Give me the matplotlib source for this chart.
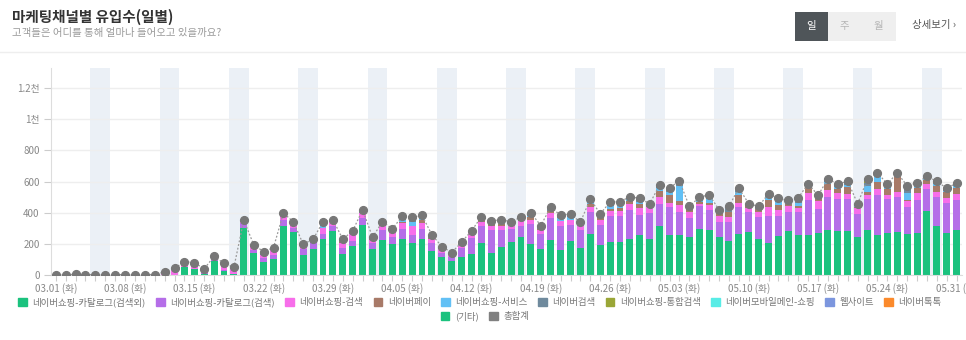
import matplotlib

matplotlib.use("Agg")
import matplotlib.pyplot as plt
from matplotlib.patches import Rectangle
from matplotlib.lines import Line2D
import numpy as np

plt.rcParams["font.family"] = ["Noto Sans CJK KR", "DejaVu Sans"]

# 03.01 ~ 05.31 (92일)
날짜 = [f"{m:02d}.{d:02d}" for m, n in [(3, 31), (4, 30), (5, 31)] for d in range(1, n + 1)]
요일_라벨 = "(화)"

카탈로그_검색외 = [
    0, 0, 0, 0, 0, 0, 0, 0, 0, 0, 0, 3, 0, 54, 39, 8, 90, 28, 5, 305,
    144, 86, 101, 312, 275, 129, 166, 230, 284, 135, 189, 322, 166, 226, 200, 230, 208, 232, 157, 116,
    88, 114, 135, 204, 144, 178, 213, 241, 200, 166, 226, 163, 217, 174, 265, 191, 213, 213, 232, 254,
    232, 316, 254, 254, 241, 297, 290, 243, 219, 262, 275, 232, 204, 252, 280, 258, 258, 269, 290, 280,
    284, 243, 286, 254, 273, 277, 265, 269, 408, 312, 269, 286,
]
카탈로그_검색 = [
    0, 0, 0, 0, 0, 0, 0, 0, 0, 0, 0, 0, 0, 0, 0, 5, 10, 5, 0, 28,
    15, 25, 28, 43, 26, 37, 49, 35, 28, 37, 30, 43, 38, 60, 43, 67, 50, 63, 47, 28,
    30, 62, 102, 108, 146, 112, 82, 77, 129, 99, 137, 149, 105, 116, 139, 131, 163, 163, 183, 129,
    166, 142, 185, 152, 125, 144, 127, 99, 121, 172, 127, 140, 177, 124, 122, 146, 221, 157, 209, 210,
    206, 146, 202, 258, 217, 224, 169, 210, 145, 189, 193, 198,
]
쇼핑_검색 = [
    0, 0, 0, 0, 0, 0, 0, 0, 0, 0, 0, 12, 35, 25, 30, 20, 12, 30, 35, 8,
    20, 20, 37, 21, 26, 21, 5, 40, 28, 32, 46, 33, 20, 26, 41, 36, 54, 42, 26, 22,
    14, 18, 32, 30, 26, 22, 27, 26, 26, 21, 35, 36, 30, 30, 36, 33, 32, 32, 41, 47,
    36, 43, 26, 44, 40, 15, 30, 34, 32, 28, 28, 30, 56, 39, 39, 28, 48, 51, 49, 35,
    33, 39, 28, 41, 26, 34, 39, 48, 32, 30, 33, 36,
]
네이버페이 = [
    0, 0, 0, 0, 0, 0, 0, 0, 0, 0, 0, 0, 0, 0, 0, 0, 0, 0, 0, 0,
    0, 0, 0, 0, 0, 0, 0, 0, 5, 14, 0, 0, 8, 12, 5, 8, 0, 18, 10, 5,
    0, 0, 0, 15, 12, 15, 5, 12, 15, 12, 15, 0, 0, 0, 18, 12, 18, 25, 22, 25,
    10, 41, 51, 27, 15, 12, 15, 24, 35, 54, 12, 20, 47, 32, 12, 13, 36, 12, 39, 30,
    40, 12, 17, 47, 37, 93, 10, 30, 23, 39, 36, 39,
]
쇼핑_서비스 = [
    0, 0, 0, 0, 0, 0, 0, 0, 0, 0, 0, 0, 0, 0, 0, 0, 0, 0, 0, 0,
    0, 0, 0, 0, 0, 0, 0, 10, 0, 0, 0, 0, 0, 0, 0, 15, 30, 8, 0, 0,
    0, 0, 0, 8, 10, 12, 0, 5, 12, 0, 0, 15, 22, 5, 8, 0, 20, 18, 8, 15,
    5, 15, 20, 93, 0, 12, 28, 0, 0, 20, 0, 0, 18, 25, 10, 15, 0, 0, 12, 12,
    18, 6, 37, 34, 12, 0, 45, 12, 12, 12, 8, 12,
]
네이버검색 = [
    3, 3, 4, 3, 2, 2, 3, 2, 3, 3, 3, 5, 8, 7, 10, 7, 8, 12, 10, 12,
    15, 19, 10, 22, 15, 11, 10, 27, 10, 12, 19, 21, 11, 18, 8, 12, 20, 12, 18, 12,
    12, 17, 15, 9, 10, 16, 15, 11, 10, 20, 24, 20, 17, 15, 22, 18, 23, 20, 17, 22,
    9, 22, 25, 34, 20, 19, 26, 19, 34, 23, 16, 19, 21, 20, 16, 20, 24, 23, 18, 18,
    21, 12, 22, 22, 20, 18, 46, 23, 14, 20, 18, 21,
]
통합검색 = [0] * 92
for i, v in [(35, 8), (36, 8), (37, 8), (48, 6), (55, 8), (75, 15), (82, 15), (85, 10)]:
    통합검색[i] = v
모바일메인 = [0] * 92
모바일메인[82] = 10
웹사이트 = [0] * 92
네이버톡톡 = [0] * 92
기타 = [0] * 92

채널 = [
    ("네이버쇼핑-카탈로그(검색외)", 카탈로그_검색외, "#1bc27e"),
    ("네이버쇼핑-카탈로그(검색)", 카탈로그_검색, "#b56ee8"),
    ("네이버쇼핑-검색", 쇼핑_검색, "#f76eea"),
    ("네이버페이", 네이버페이, "#a87a68"),
    ("네이버쇼핑-서비스", 쇼핑_서비스, "#62c0f5"),
    ("네이버검색", 네이버검색, "#6f8a9d"),
    ("네이버쇼핑-통합검색", 통합검색, "#9aa637"),
    ("네이버모바일메인-쇼핑", 모바일메인, "#58ece6"),
    ("웹사이트", 웹사이트, "#7c96de"),
    ("네이버톡톡", 네이버톡톡, "#fb8a2c"),
    ("(기타)", 기타, "#1bc27e"),
]
총합계 = np.sum([np.array(v) for _, v, _ in 채널], axis=0)

W, H = 966, 340
fig = plt.figure(figsize=(W / 100, H / 100), dpi=100)


def fx(px):
    return px / W


def fy(py):
    return 1 - py / H


# 상단 헤더
fig.text(fx(12), fy(17), "마케팅채널별 유입수(일별)", fontsize=10.5, fontweight="bold",
         color="#333333", va="center")
fig.text(fx(12), fy(33), "고객들은 어디를 통해 얼마나 들어오고 있을까요?", fontsize=7.5,
         color="#9a9a9a", va="center")

버튼 = [("일", 795, "#4f5559", "#ffffff"), ("주", 828, "#efefef", "#b5b5b5"), ("월", 862, "#efefef", "#b5b5b5")]
for 글자, x0, bg, fg in 버튼:
    fig.patches.append(Rectangle((fx(x0), fy(41)), fx(33.5), 29 / H, transform=fig.transFigure,
                                 facecolor=bg, edgecolor="none"))
    fig.text(fx(x0 + 16.5), fy(26.5), 글자, fontsize=7.5, color=fg, ha="center", va="center")
fig.text(fx(912), fy(25), "상세보기 ›", fontsize=7.5, color="#555555", va="center")
fig.lines.append(Line2D([0, 1], [fy(52), fy(52)], transform=fig.transFigure, color="#eeeeee", lw=1))

# 차트 영역
x_left, x_right, y_top, y_bot = 50.75, 961.6, 68.3, 275
ax = fig.add_axes([fx(x_left), fy(y_bot), fx(x_right - x_left), (y_bot - y_top) / H])

x = np.arange(len(날짜))
for s in range(4, len(날짜), 7):
    ax.axvspan(s - 0.5, s + 1.5, color="#ebf0f6", lw=0, zorder=0)

bottom = np.zeros(len(날짜))
for 이름, 값, 색 in 채널:
    ax.bar(x, 값, bottom=bottom, width=0.7, color=색, label=이름, zorder=2)
    bottom += np.array(값)

ax.plot(x, 총합계, color="#999999", lw=0.9, linestyle=(0, (1.5, 1.5)), marker="o",
        markersize=5.6, markerfacecolor="#777777", markeredgecolor="#777777", zorder=3,
        label="총합계")

ax.set_xlim(-0.5, len(날짜) - 0.5)
ax.set_ylim(0, 1328)
ax.set_yticks([0, 200, 400, 600, 800, 1000, 1200],
              ["0", "200", "400", "600", "800", "1천", "1.2천"])
ax.set_xticks(x, minor=True)
ax.set_xticks(x[::7], [f"{날짜[i]} {요일_라벨}" for i in x[::7]])
ax.tick_params(axis="y", colors="#cccccc", labelcolor="#888888", labelsize=7, length=5, width=0.8, pad=3)
ax.tick_params(axis="x", which="both", colors="#cccccc", labelcolor="#888888", labelsize=7,
               length=4, width=0.8, pad=2)
ax.grid(axis="y", color="#eeeeee", lw=1, zorder=1)
ax.set_axisbelow(True)
for side in ["top", "right"]:
    ax.spines[side].set_visible(False)
for side in ["left", "bottom"]:
    ax.spines[side].set_color("#dddddd")

# 범례 (두 줄)
sq = [Rectangle((0, 0), 1, 1, color=c) for _, _, c in 채널] + [Rectangle((0, 0), 1, 1, color="#808080")]
names = [n for n, _, _ in 채널] + ["총합계"]
kw = dict(frameon=False, fontsize=6.8, labelcolor="#777777", handlelength=0.9, handleheight=0.9,
          handletextpad=0.6, columnspacing=1.1, borderpad=0)
fig.legend(sq[:10], names[:10], ncol=10, loc="center", bbox_to_anchor=(fx(480), fy(302)), **kw)
fig.legend(sq[10:], names[10:], ncol=2, loc="center", bbox_to_anchor=(fx(485), fy(316)), **kw)

fig.savefig("out.png", dpi=100)
